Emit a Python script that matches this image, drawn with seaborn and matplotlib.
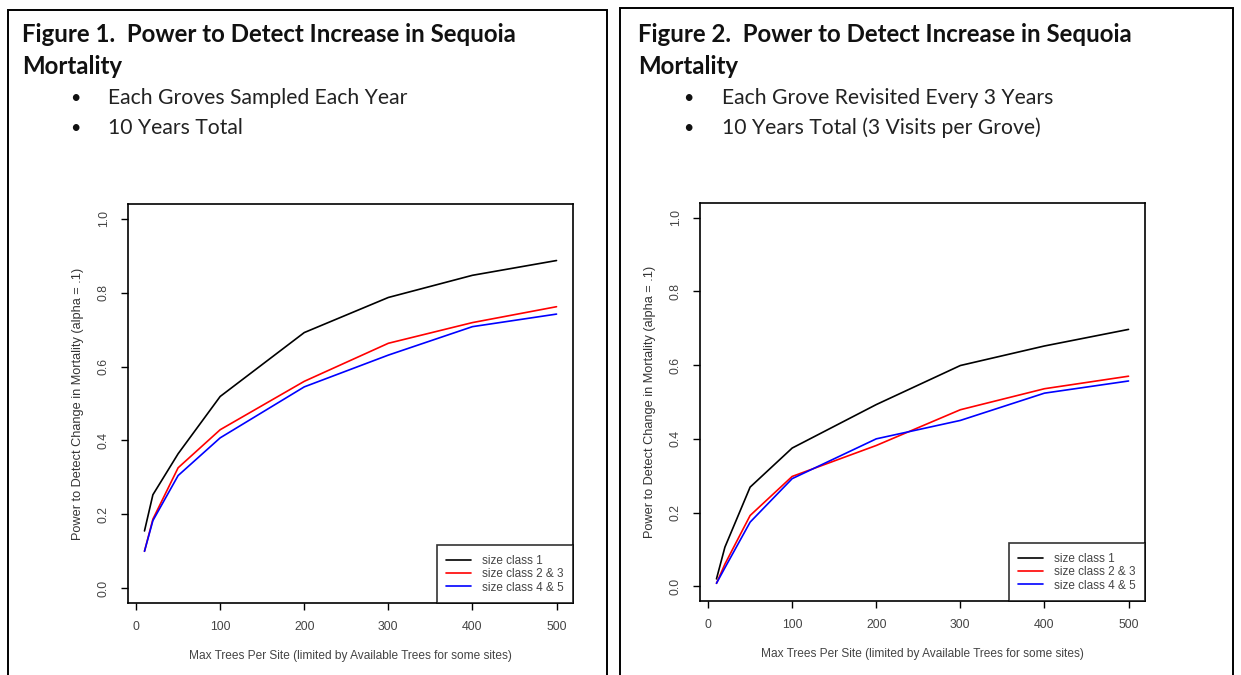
import matplotlib
matplotlib.use("Agg")
import matplotlib.pyplot as plt
import numpy as np
import pandas as pd
import seaborn as sns
from matplotlib.patches import Rectangle

# Maximum trees sampled per site
max_trees = [10, 20, 50, 100, 200, 300, 400, 500]

# Figure 1: every grove sampled every year, 10 years
fig1_class1 = [0.155, 0.253, 0.364, 0.519, 0.692, 0.787, 0.847, 0.887]
fig1_class23 = [0.100, 0.187, 0.326, 0.429, 0.560, 0.663, 0.719, 0.762]
fig1_class45 = [0.100, 0.183, 0.305, 0.407, 0.545, 0.631, 0.708, 0.742]

# Figure 2: each grove revisited every 3 years (3 visits over 10 years)
fig2_class1 = [0.020, 0.106, 0.269, 0.375, 0.493, 0.599, 0.652, 0.697]
fig2_class23 = [0.008, 0.060, 0.192, 0.298, 0.382, 0.479, 0.536, 0.570]
fig2_class45 = [0.008, 0.050, 0.174, 0.292, 0.400, 0.450, 0.524, 0.557]

series_names = ["size class 1", "size class 2 & 3", "size class 4 & 5"]
series_colors = ["black", "red", "blue"]
x_ticks = [0, 100, 200, 300, 400, 500]
y_ticks = [0.0, 0.2, 0.4, 0.6, 0.8, 1.0]

x_label = "Max Trees Per Site (limited by Available Trees for some sites)"
y_label = "Power to Detect Change in Mortality (alpha = .1)"

panels = [
    {
        "title": ["Figure 1.  Power to Detect Increase in Sequoia", "Mortality"],
        "bullets": ["Each Groves Sampled Each Year", "10 Years Total"],
        "series": [fig1_class1, fig1_class23, fig1_class45],
    },
    {
        "title": ["Figure 2.  Power to Detect Increase in Sequoia", "Mortality"],
        "bullets": ["Each Grove Revisited Every 3 Years",
                    "10 Years Total (3 Visits per Grove)"],
        "series": [fig2_class1, fig2_class23, fig2_class45],
    },
]

W, H = 1241, 675
sns.set_style("white")
plt.rcParams["font.family"] = ["Liberation Sans", "DejaVu Sans"]

fig = plt.figure(figsize=(W / 100, H / 100), dpi=100)
fig.patch.set_facecolor("white")


def px_axes(left, top, right, bottom):
    return fig.add_axes([left / W, 1 - bottom / H, (right - left) / W, (bottom - top) / H])


# panel frames and text boxes (pixel layout)
frames = [(8, 10, 607), (620, 8, 1233)]
axes_boxes = [(128, 204, 573, 603), (700, 203, 1145, 601)]
text_x = [22, 638]
bullet_x = [70, 683]
bullet_text_x = [108, 722]
title_font = ["Lato", "DejaVu Sans"]

for i, panel in enumerate(panels):
    fl, ft, fr = frames[i]
    fig.patches.append(Rectangle((fl / W, -0.1), (fr - fl) / W, 1 - ft / H + 0.1,
                                 transform=fig.transFigure, fill=False,
                                 edgecolor="black", linewidth=1.4))
    fig.text(text_x[i] / W, 1 - 34 / H, panel["title"][0], fontsize=17.3,
             fontweight="bold", family=title_font, va="center", color="#111111")
    fig.text(text_x[i] / W, 1 - 66 / H, panel["title"][1], fontsize=17.3,
             fontweight="bold", family=title_font, va="center", color="#111111")
    for j, b in enumerate(panel["bullets"]):
        yy = 1 - (98 + 30 * j) / H
        fig.text(bullet_x[i] / W, yy, "\u2022", fontsize=13, va="center",
                 family=title_font, color="#111111")
        fig.text(bullet_text_x[i] / W, yy, b, fontsize=15.2, va="center",
                 family=title_font, color="#222222")

    ax = px_axes(*axes_boxes[i])
    df = pd.DataFrame({
        "trees": np.tile(max_trees, len(series_names)),
        "power": np.concatenate(panel["series"]),
        "cls": np.repeat(series_names, len(max_trees)),
    })
    sns.lineplot(data=df, x="trees", y="power", hue="cls", hue_order=series_names,
                 palette=series_colors, linewidth=1.2, ax=ax, legend=False)

    ax.set_xlim(-9.6, 519.6)
    ax.set_ylim(-0.04, 1.04)
    ax.set_xticks(x_ticks)
    ax.set_yticks(y_ticks)
    ax.set_xticklabels([str(t) for t in x_ticks], fontsize=8.8, color="#444444")
    ax.set_yticklabels([f"{t:.1f}" for t in y_ticks], fontsize=8.8, rotation=90,
                       va="center", color="#444444")
    ax.tick_params(axis="both", direction="out", length=5, width=1, color="black",
                   bottom=True, left=True, pad=8)
    for s in ax.spines.values():
        s.set_color("black")
        s.set_linewidth(1.2)
    ax.set_xlabel(x_label, fontsize=8.6, color="#444444", labelpad=12)
    ax.set_ylabel(y_label, fontsize=9.2, color="#333333", labelpad=10)

    handles = [plt.Line2D([], [], color=c, lw=1.2) for c in series_colors]
    leg = ax.legend(handles, series_names, loc="lower right", fontsize=8.5,
                    frameon=True, fancybox=False, borderaxespad=0,
                    handlelength=2.1, handletextpad=0.9, borderpad=0.8,
                    labelspacing=0.12)
    leg.get_frame().set_edgecolor("black")
    leg.get_frame().set_linewidth(1.2)
    for t in leg.get_texts():
        t.set_color("#444444")

fig.savefig("out.png", dpi=100, facecolor="white")
